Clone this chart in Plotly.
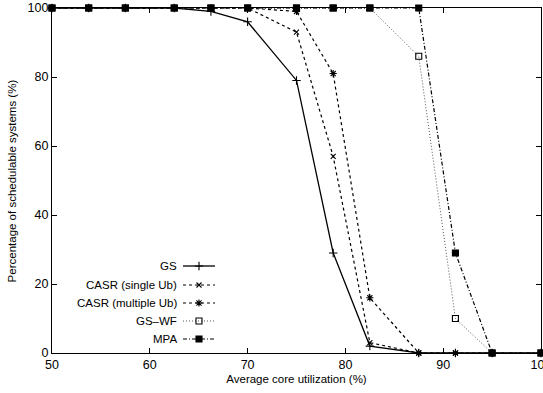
import plotly.graph_objects as go

utilization = [50, 53.75, 57.5, 62.5, 66.25, 70, 75, 78.75, 82.5, 87.5, 91.25, 95, 100]
gs = [100, 100, 100, 100, 99, 96, 79, 29, 2, 0, 0, 0, 0]
casr_single = [100, 100, 100, 100, 100, 100, 93, 57, 3, 0, 0, 0, 0]
casr_multiple = [100, 100, 100, 100, 100, 100, 99, 81, 16, 0, 0, 0, 0]
gs_wf = [100, 100, 100, 100, 100, 100, 100, 100, 100, 86, 10, 0, 0]
mpa = [100, 100, 100, 100, 100, 100, 100, 100, 100, 100, 29, 0, 0]

x_ticks = [50, 60, 70, 80, 90, 100]
y_ticks = [0, 20, 40, 60, 80, 100]

FONT = "Liberation Sans, Arial, sans-serif"

series = [
    ("GS", gs, "solid", "cross-thin", 6, 1.3, "black"),
    ("CASR (single Ub)", casr_single, "3px,3px", "x-thin", 5, 1.2, "black"),
    ("CASR (multiple Ub)", casr_multiple, "3px,3px", "asterisk", 6, 1.2, "black"),
    ("GS\u2013WF", gs_wf, "1px,2px", "square-open", 6, 1.0, "#555"),
    ("MPA", mpa, "4px,2px,1px,2px", "square", 6, 1.2, "black"),
]

fig = go.Figure()
for name, vals, dash, sym, msz, lw, col in series:
    fig.add_trace(go.Scatter(
        x=utilization, y=vals, mode="lines+markers", name=name,
        line=dict(color=col, width=lw, dash=dash),
        marker=dict(symbol=sym, size=msz, color="black",
                    line=dict(color="black", width=1.1)),
        cliponaxis=False, showlegend=False))

# custom gnuplot-style key: right-aligned text, sample on the right
key_rows = [266, 285, 303, 321, 339]
for (name, vals, dash, sym, msz, lw, col), yy in zip(series, key_rows):
    fig.add_trace(go.Scatter(
        x=[183, 199, 215], y=[yy, yy, yy], xaxis="x2", yaxis="y2",
        mode="lines", line=dict(color=col, width=lw, dash=dash),
        showlegend=False, hoverinfo="skip"))
    fig.add_trace(go.Scatter(
        x=[199], y=[yy], xaxis="x2", yaxis="y2", mode="markers",
        marker=dict(symbol=sym, size=msz, color="black",
                    line=dict(color="black", width=1.1)),
        showlegend=False, hoverinfo="skip"))
    fig.add_annotation(x=179, y=yy, xref="x2", yref="y2", text=name,
                       showarrow=False, xanchor="right", yanchor="middle",
                       font=dict(family=FONT, size=11.5, color="black"))

# y-axis title placed like gnuplot's ylabel
fig.add_annotation(x=-0.082, y=0.5, xref="paper", yref="paper",
                   text="Percentage of schedulable systems (%)", textangle=-90,
                   showarrow=False, xanchor="center", yanchor="middle",
                   font=dict(family=FONT, size=11.5, color="black"))

axis_common = dict(showline=True, linecolor="black", linewidth=1.2,
                   mirror="ticks", ticks="inside", ticklen=5, tickwidth=1,
                   tickcolor="black", showgrid=False, zeroline=False,
                   automargin=False, ticklabeloverflow="allow",
                   tickfont=dict(family=FONT, size=12.5, color="black"))

fig.update_layout(
    width=543, height=393,
    margin=dict(l=52, r=2, t=8, b=40, autoexpand=False),
    paper_bgcolor="white", plot_bgcolor="white",
    xaxis=dict(range=[50, 100], tickvals=x_ticks,
               title=dict(text="Average core utilization (%)", standoff=3,
                          font=dict(family=FONT, size=11.5, color="black")),
               **axis_common),
    yaxis=dict(range=[0, 100], tickvals=y_ticks, **axis_common),
    xaxis2=dict(range=[52, 541], visible=False, overlaying="x", domain=[0, 1]),
    yaxis2=dict(range=[353, 8], visible=False, overlaying="y", domain=[0, 1]),
    showlegend=False,
)

fig.write_html(
    "out.html",
    config={"displayModeBar": False},
    post_script="document.body.style.margin='0';document.body.style.overflow='hidden';",
)
